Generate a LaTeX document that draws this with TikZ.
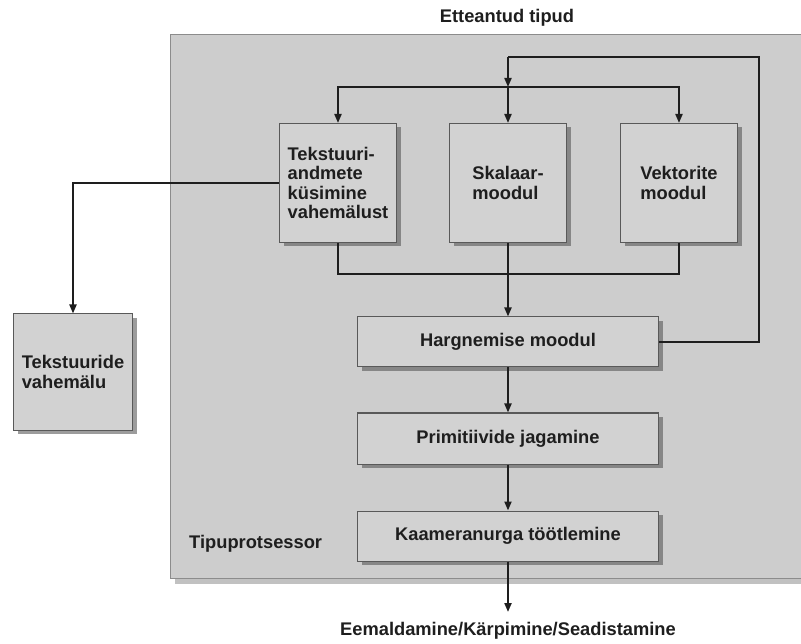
\documentclass[tikz,border=0pt]{standalone}
\usepackage{fontspec}
\setmainfont{Liberation Sans}
\usetikzlibrary{arrows.meta,shadows}
\definecolor{panelgray}{RGB}{205,205,205}
\definecolor{boxgray}{RGB}{210,210,210}
\definecolor{linedark}{RGB}{30,30,30}
\begin{document}
\begin{tikzpicture}[x=1pt,y=-1pt,
  every node/.style={font=\bfseries\fontsize{18.3}{19.5}\selectfont, text=linedark, inner sep=0pt},
  unitbox/.style={draw=black!65, line width=1pt, fill=boxgray, align=left,
    drop shadow={shadow xshift=4pt, shadow yshift=-4pt, fill=black!70, opacity=0.55}},
  conn/.style={draw=linedark, line width=2pt},
  arr/.style={conn, -{Triangle[length=9pt,width=7pt]}},
  lbl/.style={align=center}
]
\useasboundingbox (0,0) rectangle (801,644);
\fill[white] (0,0) rectangle (801,644);
% panel
\fill[black!40, opacity=0.6] (175,579) rectangle (810,584);
\draw[draw=black!45, line width=1pt, fill=panelgray] (170,35) rectangle (810,578);

% nodes
\node[lbl] (title) at (507,18) {Etteantud tipud};
\node[unitbox, minimum width=117pt, minimum height=119pt] (tex) at (338,183) {Tekstuuri-\\andmete\\küsimine\\vahemälust};
\node[unitbox, minimum width=117pt, minimum height=119pt] (ska) at (508,183) {Skalaar-\\moodul};
\node[unitbox, minimum width=117pt, minimum height=119pt] (vek) at (679,183) {Vektorite\\moodul};
\node[unitbox, minimum width=119pt, minimum height=116pt] (tcache) at (73,372) {Tekstuuride\\vahemälu};
\node[unitbox, minimum width=301pt, minimum height=50pt] (harg) at (508,342) {Hargnemise moodul};
\node[unitbox, minimum width=301pt, minimum height=51pt] (prim) at (508,438.5) {Primitiivide jagamine};
\node[unitbox, minimum width=301pt, minimum height=50pt] (kam) at (508,536) {Kaameranurga töötlemine};
\node[anchor=base west] (tp) at (189,548) {Tipuprotsessor};
\node[anchor=base] (out) at (508,635) {Eemaldamine/Kärpimine/Seadistamine};

% junction coordinates
\coordinate (lr) at (759,57);
\coordinate (lt) at (508,57);
\coordinate (dj) at (508,87);
\coordinate (cj) at (508,274);
\coordinate (oend) at (508,612);

% feedback loop
\draw[conn] (harg.east) -| (lr) -- (lt);
\draw[arr] (lt) -- (dj);
% distribution
\draw[arr] (dj) -| (tex.north);
\draw[arr] (dj) -| (vek.north);
\draw[arr] (dj) -- (ska.north);
% collector
\draw[conn] (tex.south) |- (cj) -| (vek.south);
\draw[arr] (ska.south) -- (harg.north);
% texture cache
\draw[arr] (tex.west) -| (tcache.north);
% chain
\draw[arr] (harg.south) -- (prim.north);
\draw[arr] (prim.south) -- (kam.north);
\draw[arr] (kam.south) -- (oend);
\end{tikzpicture}
\end{document}
